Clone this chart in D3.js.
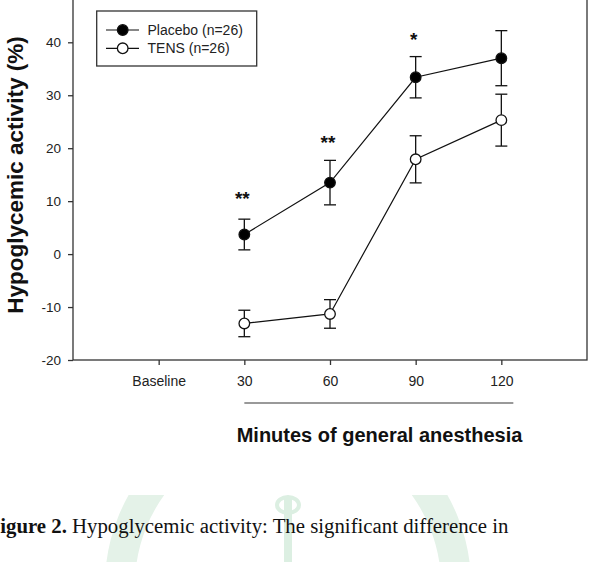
<!DOCTYPE html>
<html>
<head>
<meta charset="utf-8">
<script src="https://cdn.jsdelivr.net/npm/d3@7"></script>
<style>
html,body{margin:0;padding:0;background:#fff;}
svg{display:block;}
</style>
</head>
<body>
<svg id="chart" width="596" height="562"></svg>
<script>
// ---- data ----
const categories = ["Baseline", "30", "60", "90", "120"];
const minutes = [0, 30, 60, 90, 120];
const timePoints = [30, 60, 90, 120];
const placeboMean = [3.7, 13.5, 33.4, 37.0];
const placeboSE = [2.9, 4.2, 3.9, 5.2];
const tensMean = [-13.1, -11.3, 17.9, 25.3];
const tensSE = [2.5, 2.7, 4.45, 4.9];
const yTicks = [-20, -10, 0, 10, 20, 30, 40];
const yTickLabels = ["-20", "-10", "0", "10", "20", "30", "40"];
const sigLabels = ["**", "**", "*"];
const sigTimes = [30, 60, 90];
const sigY = [9.3, 19.9, 39.3];
const seriesNames = ["Placebo (n=26)", "TENS (n=26)"];

const svg = d3.select("#chart");
const L = 73, R = 587, B = 360;
const x = d3.scaleLinear().domain([-30, 150]).range([L, R]);
const y = d3.scaleLinear().domain([-20, 40]).range([B, 42.3]);
const yTop = y(50);
const font = "'Liberation Sans', Arial, sans-serif";

// watermark (faint seal)
const wm = svg.append("g");
svg.append("clipPath").attr("id", "wmclip").append("rect")
  .attr("x", 0).attr("y", 495).attr("width", 596).attr("height", 70);
wm.attr("clip-path", "url(#wmclip)");
wm.append("circle").attr("cx", 288).attr("cy", 585).attr("r", 168)
  .attr("fill", "none").attr("stroke", "#e4f2e8").attr("stroke-width", 30);
wm.append("path").attr("d", "M288,497 L288,562").attr("stroke", "#dcefe2").attr("stroke-width", 8);
wm.append("ellipse").attr("cx", 288).attr("cy", 505).attr("rx", 11).attr("ry", 8)
  .attr("fill", "none").attr("stroke", "#dcefe2").attr("stroke-width", 4);

// frame
svg.append("rect").attr("x", L).attr("y", yTop).attr("width", R - L).attr("height", B - yTop)
  .attr("fill", "none").attr("stroke", "#333").attr("stroke-width", 1.3);

// y axis
const yAxis = svg.append("g").attr("transform", `translate(${L},0)`)
  .call(d3.axisLeft(y).tickValues(yTicks).tickFormat((d, i) => yTickLabels[i]).tickSize(5).tickPadding(7));
yAxis.select(".domain").remove();
yAxis.selectAll("line").attr("stroke", "#333").attr("stroke-width", 1.3);
yAxis.selectAll("text").attr("font-family", font).attr("font-size", 13.5).attr("fill", "#222");

// x axis
const xAxis = svg.append("g").attr("transform", `translate(0,${B})`)
  .call(d3.axisBottom(x).tickValues(minutes).tickFormat((d, i) => categories[i]).tickSize(5).tickPadding(11));
xAxis.select(".domain").remove();
xAxis.selectAll("line").attr("stroke", "#333").attr("stroke-width", 1.3);
xAxis.selectAll("text").attr("font-family", font).attr("font-size", 14).attr("fill", "#222");

// gray bracket line
svg.append("line").attr("x1", x(30)).attr("x2", x(120) + 12).attr("y1", 403).attr("y2", 403)
  .attr("stroke", "#999").attr("stroke-width", 2);

// axis titles
svg.append("text").attr("x", 379.5).attr("y", 442).attr("text-anchor", "middle")
  .attr("font-family", font).attr("font-weight", "bold").attr("font-size", 20).attr("fill", "#111")
  .text("Minutes of general anesthesia");
svg.append("text").attr("transform", "translate(23,175) rotate(-90)").attr("text-anchor", "middle")
  .attr("font-family", font).attr("font-weight", "bold").attr("font-size", 22.5).attr("fill", "#111")
  .text("Hypoglycemic activity (%)");

// series
const series = [
  {mean: placeboMean, se: placeboSE, fill: "#000"},
  {mean: tensMean, se: tensSE, fill: "#fff"}
];
const line = d3.line().x(d => x(d.t)).y(d => y(d.m));
series.forEach(s => {
  const pts = timePoints.map((t, i) => ({t, m: s.mean[i], e: s.se[i]}));
  svg.append("path").datum(pts).attr("d", line).attr("fill", "none")
    .attr("stroke", "#111").attr("stroke-width", 1.2);
  const eb = svg.append("g").attr("stroke", "#111").attr("stroke-width", 1.3);
  pts.forEach(p => {
    eb.append("line").attr("x1", x(p.t)).attr("x2", x(p.t)).attr("y1", y(p.m + p.e)).attr("y2", y(p.m - p.e));
    eb.append("line").attr("x1", x(p.t) - 6).attr("x2", x(p.t) + 6).attr("y1", y(p.m + p.e)).attr("y2", y(p.m + p.e));
    eb.append("line").attr("x1", x(p.t) - 6).attr("x2", x(p.t) + 6).attr("y1", y(p.m - p.e)).attr("y2", y(p.m - p.e));
  });
  svg.append("g").selectAll("circle").data(pts).join("circle")
    .attr("cx", d => x(d.t)).attr("cy", d => y(d.m)).attr("r", 5.3)
    .attr("fill", s.fill).attr("stroke", "#111").attr("stroke-width", 1.3);
});

// significance
svg.append("g").selectAll("text").data(sigLabels).join("text")
  .attr("x", (d, i) => x(sigTimes[i]) - 2).attr("y", (d, i) => y(sigY[i]))
  .attr("text-anchor", "middle").attr("font-family", font).attr("font-weight", "bold")
  .attr("font-size", 19).attr("fill", "#111").text(d => d);

// legend
const lg = svg.append("g");
lg.append("rect").attr("x", 96.7).attr("y", 11).attr("width", 160).attr("height", 55)
  .attr("fill", "#fff").attr("stroke", "#333").attr("stroke-width", 1.3);
seriesNames.forEach((nm, i) => {
  const cy = 30 + i * 18.3;
  lg.append("line").attr("x1", 106).attr("x2", 139).attr("y1", cy).attr("y2", cy)
    .attr("stroke", "#111").attr("stroke-width", 1.2);
  lg.append("circle").attr("cx", 122.7).attr("cy", cy).attr("r", 5.3)
    .attr("fill", series[i].fill).attr("stroke", "#111").attr("stroke-width", 1.3);
  lg.append("text").attr("x", 147.5).attr("y", cy + 5).attr("font-family", font)
    .attr("font-size", 14).attr("fill", "#222").text(nm);
});

// caption
const cap = svg.append("text").attr("x", -12.5).attr("y", 533)
  .attr("font-family", "'Liberation Serif', 'Times New Roman', serif").attr("font-size", 20.8).attr("fill", "#111");
cap.append("tspan").attr("font-weight", "bold").text("Figure 2.");
cap.append("tspan").text(" Hypoglycemic activity: The significant difference in");
</script>
</body>
</html>
